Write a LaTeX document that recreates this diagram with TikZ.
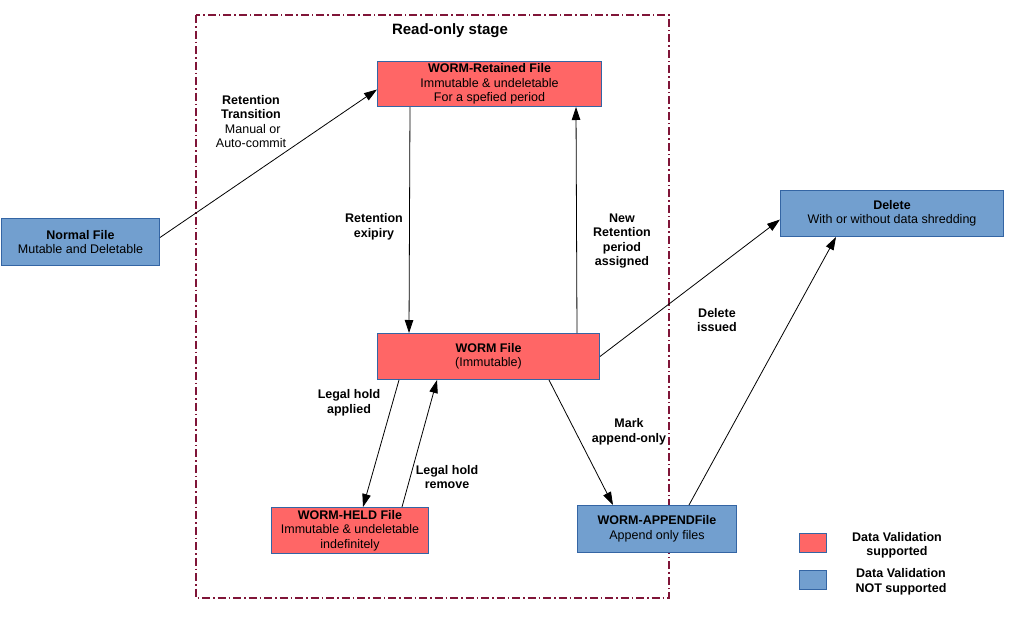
\documentclass[tikz,border=0pt]{standalone}
\usepackage{fontspec}
\setmainfont{Liberation Sans}
\usetikzlibrary{arrows.meta}
\definecolor{redfill}{RGB}{255,102,102}
\definecolor{bluefill}{RGB}{114,159,207}
\definecolor{boxline}{RGB}{52,101,164}
\definecolor{framecol}{RGB}{128,21,56}
\newcommand{\fs}{\fontsize{12.5}{14.5}\selectfont}
\tikzset{
  box/.style={draw=boxline, line width=1pt, inner sep=0pt, align=center, anchor=north west, font=\fs},
  redbox/.style={box, fill=redfill},
  bluebox/.style={box, fill=bluefill},
  lbl/.style={align=center, font=\fs\bfseries, inner sep=0pt},
  arr/.style={draw=black, line width=0.8pt, -{Triangle[length=13pt,width=8.5pt]}},
  frame/.style={draw=framecol, line width=1.8pt, dash pattern=on 8pt off 3pt on 1.5pt off 3pt}
}
\begin{document}
\begin{tikzpicture}[x=1pt,y=-1pt]
\useasboundingbox (0,0) rectangle (1009,616);
% read-only stage frame
\draw[frame] (196,15) rectangle (669,598);
\node[lbl, font=\fontsize{15}{17}\selectfont\bfseries] (title) at (450,31) {Read-only stage};
% boxes
\node[bluebox, minimum width=158pt, minimum height=47pt] (normal) at (1,218) {\textbf{Normal File}\\Mutable and Deletable};
\node[redbox, minimum width=224pt, minimum height=45pt] (ret) at (377,61) {\textbf{WORM-Retained File}\\Immutable \& undeletable\\For a spefied period};
\node[bluebox, minimum width=223pt, minimum height=46pt] (del) at (780,190) {\textbf{Delete}\\With or without data shredding};
\node[redbox, minimum width=222pt, minimum height=46pt] (wf) at (377,333) {\textbf{WORM File}\\(Immutable)};
\node[redbox, minimum width=157pt, minimum height=46pt] (held) at (271,507) {\textbf{WORM-HELD File}\\Immutable \& undeletable\\indefinitely};
\node[bluebox, minimum width=159pt, minimum height=47pt] (app) at (577,505) {\textbf{WORM-APPENDFile}\\Append only files};
% legend
\node[redbox, minimum width=27pt, minimum height=19pt] (legr) at (799,533) {};
\node[bluebox, minimum width=27pt, minimum height=19pt] (legb) at (799,570) {};
\node[lbl] (legrt) at (897,545.5) {Data Validation\\supported};
\node[lbl] (legbt) at (901,582) {Data Validation\\NOT supported};
% connectors
\draw[arr] ([yshift=4.5pt]normal.east) -- ([yshift=-5.5pt]ret.west);
\draw[arr] ([xshift=33pt]ret.south west) -- ([xshift=32pt]wf.north west);
\draw[arr] ([xshift=200pt]wf.north west) -- ([xshift=199pt]ret.south west);
\draw[arr] (wf.east) -- ([yshift=-6pt]del.west);
\draw[arr] ([xshift=22pt]wf.south west) -- ([xshift=92pt]held.north west);
\draw[arr] ([xshift=131pt]held.north west) -- ([xshift=60pt]wf.south west);
\draw[arr] ([xshift=172pt]wf.south west) -- ([xshift=36pt]app.north west);
\draw[arr] ([xshift=112pt]app.north west) -- ([xshift=56pt]del.south west);
% labels
\node[lbl] (l1) at (251,121.5) {Retention\\Transition\\\mdseries\ Manual or\\\mdseries Auto-commit};
\node[lbl] (l2) at (374,227) {Retention\\exipiry};
\node[lbl] (l3) at (622,241) {New\\Retention\\period\\assigned};
\node[lbl] (l4) at (717,320) {Delete\\issued};
\node[lbl] (l5) at (349,403) {Legal hold\\applied};
\node[lbl] (l6) at (447,477) {Legal hold\\remove};
\node[lbl] (l7) at (629,432) {Mark\\append-only};
\end{tikzpicture}
\end{document}
